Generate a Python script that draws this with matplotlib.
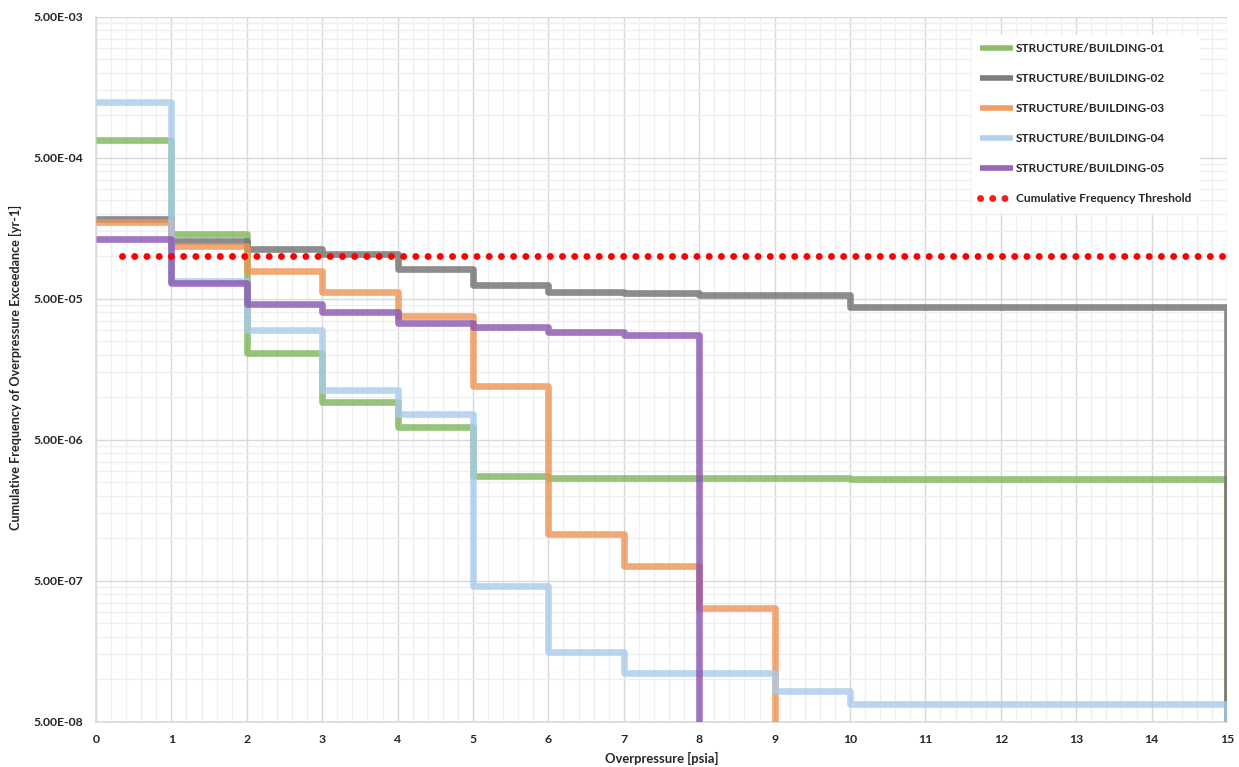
import matplotlib
matplotlib.use("Agg")
import matplotlib.pyplot as plt
from matplotlib.ticker import FixedLocator, FuncFormatter, MultipleLocator

plt.rcParams['font.family'] = ['Lato', 'DejaVu Sans']

# Overpressure breakpoints [psia] and cumulative exceedance frequencies [1/yr]
x_b01 = [0, 1, 2, 3, 4, 5, 6, 7, 8, 9, 10, 11, 12, 13, 14, 15]
f_b01 = [6.7e-4, 1.45e-4, 2.06e-5, 9.2e-6, 6.2e-6, 2.75e-6, 2.68e-6, 2.67e-6,
         2.67e-6, 2.66e-6, 2.62e-6, 2.62e-6, 2.62e-6, 2.62e-6, 2.62e-6, 0.0]

x_b02 = [0, 1, 2, 3, 4, 5, 6, 7, 8, 9, 10, 11, 12, 13, 14, 15]
f_b02 = [1.84e-4, 1.28e-4, 1.12e-4, 1.04e-4, 8.1e-5, 6.25e-5, 5.6e-5, 5.45e-5,
         5.3e-5, 5.3e-5, 4.36e-5, 4.36e-5, 4.36e-5, 4.36e-5, 4.36e-5, 0.0]

x_b03 = [0, 1, 2, 3, 4, 5, 6, 7, 8, 9]
f_b03 = [1.75e-4, 1.18e-4, 7.85e-5, 5.6e-5, 3.76e-5, 1.2e-5, 1.08e-6, 6.4e-7,
         3.2e-7, 0.0]

x_b04 = [0, 1, 2, 3, 4, 5, 6, 7, 8, 9, 10, 11, 12, 13, 14, 15]
f_b04 = [1.245e-3, 6.7e-5, 3.0e-5, 1.12e-5, 7.6e-6, 4.55e-7, 1.55e-7, 1.11e-7,
         1.11e-7, 8.2e-8, 6.7e-8, 6.7e-8, 6.7e-8, 6.7e-8, 6.7e-8, 0.0]

x_b05 = [0, 1, 2, 3, 4, 5, 6, 7, 8]
f_b05 = [1.32e-4, 6.45e-5, 4.58e-5, 4.04e-5, 3.34e-5, 3.16e-5, 2.91e-5,
         2.76e-5, 0.0]

x_threshold = [0.35, 15]
f_threshold = [1.0e-4, 1.0e-4]

series_names = ['STRUCTURE/BUILDING-01', 'STRUCTURE/BUILDING-02',
                'STRUCTURE/BUILDING-03', 'STRUCTURE/BUILDING-04',
                'STRUCTURE/BUILDING-05']
threshold_name = 'Cumulative Frequency Threshold'
x_title = 'Overpressure [psia]'
y_title = 'Cumulative Frequency of Overpressure Exceedance [yr-1]'

y_ticks = [5e-8, 5e-7, 5e-6, 5e-5, 5e-4, 5e-3]
x_ticks = list(range(0, 16))

colors = ['#7db55a', '#6f6f6f', '#ef9455', '#a9cbeb', '#8a55b0']

W, H = 1239, 767
fig = plt.figure(figsize=(W / 100, H / 100), dpi=100)
renderer = fig.canvas.get_renderer()


def size_for(text, width_px, weight='bold'):
    """Font size (pt) at which `text` renders `width_px` pixels wide."""
    probe = fig.text(0, 0, text, fontsize=10, fontweight=weight)
    w = probe.get_window_extent(renderer).width
    probe.remove()
    return 10 * width_px / w


tick_fs = size_for('5.00E-03', 50)
xlab_fs = size_for(x_title, 113)
ylab_fs = size_for(y_title, 326)
leg_fs = size_for(series_names[0], 150)

ax_left, ax_right, ax_top, ax_bottom = 96, 1227, 16.7, 721.7
ax = fig.add_axes([ax_left / W, 1 - ax_bottom / H,
                   (ax_right - ax_left) / W, (ax_bottom - ax_top) / H])

ax.set_yscale('log', nonpositive='clip')
ax.set_xlim(0, 15)
ax.set_ylim(5e-8, 5e-3)

# grid: majors at 5x10^k, minors at the multiples of each decade start
ax.yaxis.set_major_locator(FixedLocator(y_ticks))
minor_y = [d * n for d in y_ticks[:-1] for n in range(2, 10)]
ax.yaxis.set_minor_locator(FixedLocator(minor_y))
ax.xaxis.set_major_locator(FixedLocator(x_ticks))
ax.xaxis.set_minor_locator(MultipleLocator(0.2))
ax.grid(which='major', color='#d9d9d9', linewidth=1.0, zorder=0)
ax.grid(which='minor', color='#efefef', linewidth=0.9, zorder=0)
ax.set_axisbelow(True)

ax.yaxis.set_major_formatter(FuncFormatter(lambda v, p: f"{v:.2E}"))
ax.yaxis.set_minor_formatter(FuncFormatter(lambda v, p: ''))
ax.tick_params(which='both', length=0)
ax.tick_params(axis='y', pad=9.4, labelsize=tick_fs)
ax.tick_params(axis='x', pad=8.5, labelsize=tick_fs)
for lab in ax.get_xticklabels() + ax.get_yticklabels():
    lab.set_fontweight('bold')
    lab.set_color('#262626')

for side in ['top', 'right']:
    ax.spines[side].set_visible(False)
for side in ['left', 'bottom']:
    ax.spines[side].set_color('#d9d9d9')
    ax.spines[side].set_linewidth(1.2)

xs = [x_b01, x_b02, x_b03, x_b04, x_b05]
fs = [f_b01, f_b02, f_b03, f_b04, f_b05]
for x, f, c, name in zip(xs, fs, colors, series_names):
    ax.step(x, f, where='post', color=c, alpha=0.8, linewidth=4.8,
            solid_joinstyle='round', solid_capstyle='butt', label=name,
            zorder=3)

ax.plot(x_threshold, f_threshold, color='#ff0000', linewidth=5.0,
        linestyle=(0, (0.01, 1.75)), dash_capstyle='round',
        label=threshold_name, zorder=4)

fs_px = leg_fs * 100 / 72
leg = ax.legend(loc='upper left', bbox_to_anchor=(972 / W, 1 - 35 / H),
                bbox_transform=fig.transFigure,
                frameon=True, fancybox=False, edgecolor='white',
                facecolor='white', framealpha=1.0,
                handlelength=33 / fs_px, handletextpad=3 / fs_px,
                labelspacing=19 / fs_px,
                borderpad=8 / fs_px, borderaxespad=0,
                prop={'size': leg_fs, 'weight': 'bold'})
for line in leg.get_lines():
    line.set_alpha(0.9)
    if line.get_label() != threshold_name:
        line.set_linewidth(4.0)
for t in leg.get_texts():
    t.set_color('#262626')

fig.text((ax_left + ax_right) / 2 / W, 1 - 758 / H, x_title,
         fontsize=xlab_fs, fontweight='bold', color='#262626',
         ha='center', va='center')
fig.text(15 / W, 1 - 367 / H, y_title, rotation=90,
         fontsize=ylab_fs, fontweight='bold', color='#262626',
         ha='center', va='center')

fig.savefig('out.png', dpi=100, facecolor='white')
